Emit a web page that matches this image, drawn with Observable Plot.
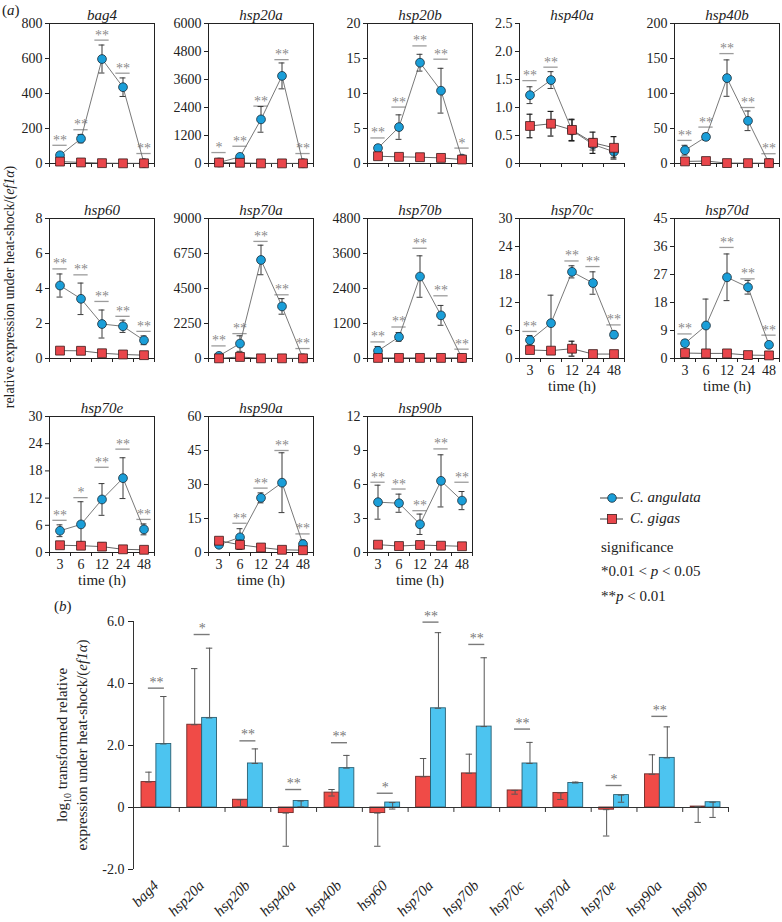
<!DOCTYPE html>
<html>
<head>
<meta charset="utf-8">
<script src="https://cdn.jsdelivr.net/npm/d3@7"></script>
<script src="https://cdn.jsdelivr.net/npm/@observablehq/plot@0.6"></script>
<style>
  body { margin: 0; background: #fff; }
  #wrap { position: relative; width: 782px; height: 922px; overflow: hidden; background: #fff;
          font-family: "Liberation Serif", "Times New Roman", Times, serif; color: #222; }
  .abs { position: absolute; }
  .txt { position: absolute; white-space: nowrap; font-size: 15px; line-height: 1; }
  .rot { position: absolute; white-space: nowrap; font-size: 15px; line-height: 1;
         transform: translate(-50%, -50%) rotate(-90deg); }
</style>
</head>
<body>
<div id="wrap">
  <div class="txt" style="left:2px;top:3px;">(<i>a</i>)</div>
  <div class="txt" style="left:54px;top:599px;">(<i>b</i>)</div>
  <div class="rot" style="left:10px;top:287px;font-size:14px;">relative expression under heat-shock/(<i>ef1α</i>)</div>
  <div class="rot" style="left:64px;top:745px;">log<sub style="font-size:10px">10</sub> transformed relative</div>
  <div class="rot" style="left:82px;top:745px;">expression under heat-shock/(<i>ef1α</i>)</div>
  <div class="abs" style="left:598px;top:488px;">
    <svg width="30" height="40">
      <line x1="2" y1="10" x2="25" y2="10" stroke="#444" stroke-width="1"/>
      <circle cx="14" cy="10" r="4.3" fill="#1a9ed8" stroke="#1b2b36" stroke-width="0.8"/>
      <line x1="2" y1="31" x2="25" y2="31" stroke="#444" stroke-width="1"/>
      <rect x="9.5" y="26.5" width="9" height="9" fill="#e9464b" stroke="#3a1a1a" stroke-width="0.8"/>
    </svg>
  </div>
  <div class="txt" style="left:630px;top:490px;font-style:italic;">C. angulata</div>
  <div class="txt" style="left:630px;top:511px;font-style:italic;">C. gigas</div>
  <div class="txt" style="left:601px;top:540px;">significance</div>
  <div class="txt" style="left:601px;top:564px;">*0.01 &lt; <i>p</i> &lt; 0.05</div>
  <div class="txt" style="left:601px;top:589px;">**<i>p</i> &lt; 0.01</div>
</div>
<script>
// ---------------- data: panel (a) ----------------
const times = ["3", "6", "12", "24", "48"];
const genes = ["bag4","hsp20a","hsp20b","hsp40a","hsp40b","hsp60","hsp70a","hsp70b","hsp70c","hsp70d","hsp70e","hsp90a","hsp90b"];
const yMaxA  = [800, 6000, 20, 2.5, 200, 8, 9000, 4800, 30, 45, 30, 60, 12];
const yStepA = [200, 1200, 5, 0.5, 50, 2, 2250, 1200, 6, 9, 6, 15, 3];

const angulataMean = [
  [47, 142, 597, 436, 2],
  [43, 284, 1891, 3754, 10],
  [2.2, 5.2, 14.4, 10.4, 0.7],
  [1.22, 1.49, 0.59, 0.34, 0.21],
  [19, 38, 122, 61, 0.5],
  [4.17, 3.41, 1.97, 1.84, 1.04],
  [170, 960, 6334, 3348, 10],
  [262, 740, 2810, 1479, 10],
  [3.93, 7.57, 18.57, 16.17, 5.1],
  [4.9, 10.6, 26.1, 22.9, 4.4],
  [4.8, 6.2, 11.7, 16.4, 5.1],
  [3.4, 6.7, 24.1, 30.8, 3.7],
  [4.44, 4.35, 2.49, 6.32, 4.58]
];
const angulataErr = [
  [15, 24, 80, 53, 1],
  [30, 60, 550, 555, 10],
  [0.4, 1.75, 1.2, 3.2, 0.3],
  [0.15, 0.15, 0.19, 0.1, 0.1],
  [7, 5, 26, 14, 0.5],
  [0.66, 0.9, 0.8, 0.35, 0.25],
  [100, 500, 950, 500, 10],
  [150, 150, 710, 340, 10],
  [1.0, 6.0, 1.3, 2.4, 0.8],
  [1.0, 8.5, 7.5, 2.2, 0.5],
  [1.3, 5.0, 3.5, 4.5, 1.2],
  [1.0, 3.8, 2.2, 13.2, 1.8],
  [1.5, 0.8, 0.9, 2.3, 0.8]
];
const gigasMean = [
  [11, 6, 2, 1, 1],
  [40, 30, 5, 5, 5],
  [1.04, 0.95, 0.9, 0.8, 0.57],
  [0.67, 0.71, 0.60, 0.37, 0.28],
  [3, 3.5, 0.6, 0.5, 0.5],
  [0.45, 0.44, 0.30, 0.23, 0.19],
  [10, 100, 10, 10, 10],
  [20, 20, 20, 20, 20],
  [1.82, 1.68, 2.1, 0.95, 0.95],
  [1.75, 1.64, 1.64, 1.1, 1.0],
  [1.6, 1.5, 1.3, 0.7, 0.6],
  [5.2, 3.4, 2.2, 1.2, 1.0],
  [0.69, 0.57, 0.66, 0.6, 0.55]
];
const gigasErr = [
  [3, 2, 1, 1, 1],
  [10, 10, 5, 5, 5],
  [0.3, 0.3, 0.2, 0.2, 0.2],
  [0.21, 0.22, 0.19, 0.19, 0.2],
  [1, 1, 0.3, 0.3, 0.3],
  [0.05, 0.05, 0.05, 0.04, 0.04],
  [10, 30, 10, 10, 10],
  [10, 10, 10, 10, 10],
  [0.3, 0.4, 1.6, 0.3, 0.3],
  [0.3, 0.3, 0.3, 0.2, 0.2],
  [0.3, 0.8, 0.8, 0.2, 0.2],
  [1.0, 2.0, 0.5, 0.3, 0.3],
  [0.15, 0.2, 0.2, 0.1, 0.1]
];
const sigLabelA = [
  ["**","**","**","**","**"],
  ["*","**","**","**","**"],
  ["**","**","**","**","*"],
  ["**","**","","",""],
  ["**","**","**","**","**"],
  ["**","**","**","**","**"],
  ["**","**","**","**","**"],
  ["**","**","**","**","**"],
  ["**","","**","**","**"],
  ["**","","**","**","**"],
  ["**","*","**","**","**"],
  ["","**","**","**","**"],
  ["**","**","**","**","**"]
];
const sigLevelA = [
  [104, 193, 705, 516, 57],
  [469, 739, 2460, 4450, 427],
  [3.65, 8.06, 16.8, 14.9, 2.2],
  [1.48, 1.72, null, null, null],
  [33, 52, 157, 80, 14],
  [5.12, 4.78, 3.26, 2.41, 1.55],
  [810, 1600, 7528, 4095, 640],
  [569, 1080, 3780, 2150, 320],
  [5.8, null, 20.9, 19.7, 7.2],
  [7.9, null, 35.7, 25.6, 7.5],
  [7.1, 12.1, 18.8, 22.8, 7.3],
  [null, 12.9, 28.4, 45, 8.2],
  [6.2, 5.6, 3.69, 9.14, 6.2]
];

// ---------------- data: panel (b) ----------------
const gigasLog   = [0.82, 2.67, 0.25, -0.18, 0.48, -0.18, 0.99, 1.10, 0.55, 0.47, -0.07, 1.07, 0.03];
const gigasLo    = [0.82, 2.67, 0.02, -1.25, 0.37, -1.25, 0.99, 1.10, 0.43, 0.26, -0.92, 1.07, -0.48];
const gigasHi    = [1.14, 4.48, 0.25, -0.18, 0.58, -0.18, 1.58, 1.72, 0.55, 0.47, -0.07, 1.70, 0.03];
const angulataLog = [2.05, 2.89, 1.42, 0.21, 1.27, 0.16, 3.20, 2.61, 1.42, 0.79, 0.40, 1.60, 0.17];
const angulataLo  = [2.05, 2.89, 1.42, 0.02, 1.27, -0.05, 3.20, 2.61, 1.42, 0.79, 0.17, 1.60, -0.32];
const angulataHi  = [3.58, 5.14, 1.89, 0.21, 1.68, 0.16, 5.64, 4.83, 2.10, 0.82, 0.40, 2.60, 0.17];
const sigLabelB = ["**","*","**","**","**","*","**","**","**","","*","**",""];
const sigLevelB = [3.85, 5.58, 2.15, 0.58, 2.09, 0.46, 5.98, 5.26, 2.53, null, 0.71, 2.94, null];
const yTicksB = [-2, 0, 2, 4, 6];

// ---------------- styling / layout ----------------
const FONT = '"Liberation Serif", "Times New Roman", Times, serif';
const BLUE_PT = "#1a9ed8", RED_PT = "#e9464b";
const BLUE_BAR = "#4cc4f0", RED_BAR = "#f04b47";
const wrap = document.getElementById("wrap");

const colLeft = [49, 208, 367, 519, 674];
const rowTop = [23, 218, 416];
const rowH = [140, 140, 136];
const frameW = 105;
const ML = 45, MR = 6, MT = 26, MB = 42;

function place(svg, left, top, w, h) {
  const d = document.createElement("div");
  d.className = "abs";
  d.style.left = left + "px";
  d.style.top = top + "px";
  d.style.width = w + "px";
  d.style.height = h + "px";
  d.appendChild(svg);
  wrap.appendChild(d);
}

function panelA(i) {
  const gene = genes[i];
  const r = Math.floor(i / 5), c = i % 5;
  const H = rowH[r];
  const rows = times.map((t, j) => ({
    xc: j + 0.5,
    am: angulataMean[i][j], ae: angulataErr[i][j],
    gm: gigasMean[i][j], ge: gigasErr[i][j],
    s: sigLabelA[i][j], sl: sigLevelA[i][j]
  }));
  const sigRows = rows.filter(d => d.s);
  const ticks = d3.range(0, yMaxA[i] + yStepA[i] / 2, yStepA[i]);
  const fmt = yStepA[i] < 1 ? (d => d === 0 ? "0" : d.toFixed(1)) : (d => String(d));
  const capW = 0.14;
  const errMarks = (m, e, color, w) => [
    Plot.ruleX(rows, {x: "xc", y1: d => Math.max(0, d[m] - d[e]), y2: d => d[m] + d[e], stroke: color, strokeWidth: w}),
    Plot.ruleY(rows, {y: d => d[m] + d[e], x1: d => d.xc - capW, x2: d => d.xc + capW, stroke: color, strokeWidth: w}),
    Plot.ruleY(rows.filter(d => d[m] - d[e] > 0), {y: d => d[m] - d[e], x1: d => d.xc - capW, x2: d => d.xc + capW, stroke: color, strokeWidth: w})
  ];
  const bottom = i >= 8;
  const marks = [];
  if (gene === "hsp40a") {
    marks.push(Plot.ruleX([0], {stroke: "#222", strokeWidth: 1}));
    marks.push(Plot.ruleY([0], {stroke: "#222", strokeWidth: 1}));
  } else {
    marks.push(Plot.frame({stroke: "#222", strokeWidth: 1}));
  }
  marks.push(
    Plot.axisY({ticks, tickSize: 4, tickPadding: 3, tickFormat: fmt, fontSize: 14, label: null}),
    Plot.axisX({ticks: [0, 1, 2, 3, 4, 5], tickSize: 4, tickFormat: () => "", label: null})
  );
  if (bottom) {
    marks.push(
      Plot.axisX({ticks: [0.5, 1.5, 2.5, 3.5, 4.5], tickSize: 0, tickPadding: 7, fontSize: 14,
                  tickFormat: d => times[Math.round(d - 0.5)], label: null}),
      Plot.text(["time (h)"], {frameAnchor: "bottom", dy: 32, fontSize: 15})
    );
  }
  marks.push(
    Plot.text([gene], {frameAnchor: "top", dy: -14, fontSize: 15, fontStyle: "italic"}),
    // significance marks
    Plot.ruleY(sigRows, {y: "sl", x1: d => d.xc - 0.34, x2: d => d.xc + 0.34, stroke: "#9c9c9c", strokeWidth: 1.3}),
    Plot.text(sigRows, {x: "xc", y: "sl", text: "s", dy: -5, fill: "#8a8a8a", fontSize: 14}),
    // C. angulata
    Plot.line(rows, {x: "xc", y: "am", stroke: "#6a6a6a", strokeWidth: 0.9}),
    ...errMarks("am", "ae", "#3a3a3a", 1),
    Plot.dot(rows, {x: "xc", y: "am", r: 4.4, fill: BLUE_PT, stroke: "#1b2b36", strokeWidth: 0.8}),
    // C. gigas
    Plot.line(rows, {x: "xc", y: "gm", stroke: "#555", strokeWidth: 0.9}),
    ...errMarks("gm", "ge", "#1e1e1e", 1.2),
    Plot.dot(rows, {x: "xc", y: "gm", r: 5, symbol: "square", fill: RED_PT, stroke: "#3a1a1a", strokeWidth: 0.8})
  );
  const svg = Plot.plot({
    width: ML + frameW + MR, height: MT + H + MB,
    marginLeft: ML, marginRight: MR, marginTop: MT, marginBottom: MB,
    style: {background: "none", overflow: "visible", fontFamily: FONT, fontSize: "14px", color: "#222"},
    x: {domain: [0, 5], label: null, axis: null},
    y: {domain: [0, yMaxA[i]], label: null, axis: null},
    marks
  });
  place(svg, colLeft[c] - ML, rowTop[r] - MT, ML + frameW + MR, MT + H + MB);
}

genes.forEach((g, i) => panelA(i));

// ---------------- panel (b) ----------------
(function panelB() {
  const data = genes.map((g, i) => ({
    i, g,
    gm: gigasLog[i], glo: gigasLo[i], ghi: gigasHi[i],
    am: angulataLog[i], alo: angulataLo[i], ahi: angulataHi[i],
    s: sigLabelB[i], sl: sigLevelB[i]
  }));
  const sig = data.filter(d => d.s);
  const capW = 0.07;
  const err = (cx, lo, hi) => [
    Plot.ruleX(data, {x: cx, y1: lo, y2: hi, stroke: "#555", strokeWidth: 1}),
    Plot.ruleY(data, {y: hi, x1: d => cx(d) - capW, x2: d => cx(d) + capW, stroke: "#555", strokeWidth: 1}),
    Plot.ruleY(data, {y: lo, x1: d => cx(d) - capW, x2: d => cx(d) + capW, stroke: "#555", strokeWidth: 1})
  ];
  const redX = d => d.i + 0.3375, blueX = d => d.i + 0.6625;
  const top = 600, W = 782, H = 322;
  const svg = Plot.plot({
    width: W, height: H,
    marginLeft: 133, marginRight: 54, marginTop: 21, marginBottom: 53,
    style: {background: "none", overflow: "visible", fontFamily: FONT, fontSize: "14px", color: "#222"},
    x: {domain: [0, 13], label: null, axis: null},
    y: {domain: [-2, 6], label: null, axis: null},
    marks: [
      Plot.rect(data, {x1: d => d.i + 0.175, x2: d => d.i + 0.5, y1: () => 0, y2: "gm", fill: RED_BAR, stroke: "#6e2a28", strokeWidth: 0.9}),
      Plot.rect(data, {x1: d => d.i + 0.5, x2: d => d.i + 0.825, y1: () => 0, y2: "am", fill: BLUE_BAR, stroke: "#2a5f72", strokeWidth: 0.9}),
      ...err(redX, d => d.glo, d => d.ghi),
      ...err(blueX, d => d.alo, d => d.ahi),
      Plot.ruleY([0], {stroke: "#333", strokeWidth: 1}),
      Plot.ruleX(d3.range(1, 14), {x: d => d, y1: () => 0, y2: () => -0.16, stroke: "#333", strokeWidth: 1}),
      Plot.ruleX([0], {y1: () => -2, y2: () => 6, stroke: "#333", strokeWidth: 1}),
      Plot.axisY({ticks: yTicksB, tickSize: 5, tickPadding: 4, fontSize: 14, label: null,
                  tickFormat: d => d === 0 ? "0" : d.toFixed(1)}),
      Plot.ruleY(sig, {y: "sl", x1: d => d.i + 0.5 - 0.175, x2: d => d.i + 0.5 + 0.175, stroke: "#7a7a7a", strokeWidth: 1.4}),
      Plot.text(sig, {x: d => d.i + 0.5, y: "sl", text: "s", dy: -6, fill: "#777", fontSize: 14}),
      Plot.text(genes, {x: (d, i) => i + 0.5, frameAnchor: "bottom", rotate: -45, textAnchor: "end",
                        dx: 3, dy: 17, fontSize: 15, fontStyle: "italic"})
    ]
  });
  place(svg, 0, top, W, H);
})();
</script>
</body>
</html>
